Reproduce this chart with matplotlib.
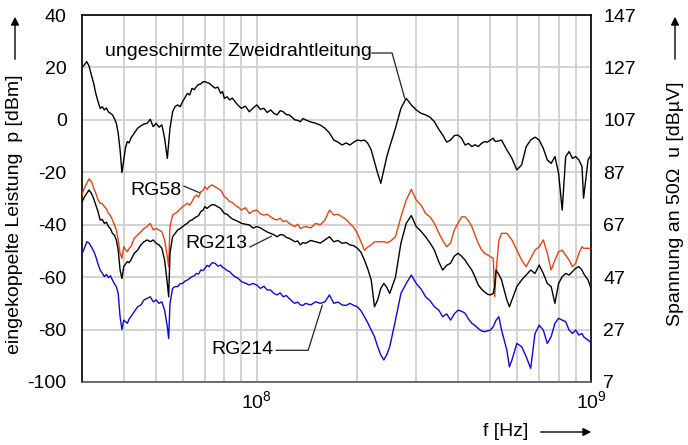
import matplotlib
matplotlib.use("Agg")
import matplotlib.pyplot as plt
from matplotlib.patches import FancyArrowPatch
from matplotlib.ticker import FixedLocator, LogLocator, NullFormatter

plt.rcParams["font.family"] = ["Liberation Sans", "DejaVu Sans"]
plt.rcParams["mathtext.default"] = "regular"
plt.rcParams["axes.unicode_minus"] = False

# Frequency grid in MHz
freq_mhz = [30, 30.5, 31, 31.5, 32, 32.5, 33, 33.5, 34, 34.5,
            35, 35.5, 36, 36.5, 37, 37.5, 38, 38.5, 39, 39.5,
            40, 40.5, 41, 41.5, 42, 43, 44, 45, 46, 47,
            48, 49, 50, 51, 52, 53, 54, 54.5, 55, 56,
            57, 58, 59, 60, 61, 62, 63, 64, 65, 66,
            67, 68, 69, 70, 71, 72, 73.5, 75, 76.5, 78,
            79, 80, 81.5, 83, 84.5, 86, 88, 90, 92.5, 95,
            97.5, 100, 102.5, 105, 107.5, 110, 112.5, 115, 117.5, 120,
            122.5, 125, 127.5, 130, 132.5, 135, 137.5, 140, 145, 150,
            155, 160, 165, 170, 175, 180, 185, 190, 195, 200,
            205, 210, 215, 220, 225, 230, 235, 240, 245, 250,
            260, 270, 280, 290, 300, 310, 320, 330, 340, 350,
            360, 370, 380, 390, 400, 410, 420, 430, 440, 450,
            460, 470, 480, 490, 500, 510, 515, 520, 530, 540,
            560, 570, 580, 600, 620, 640, 660, 680, 700, 720,
            740, 760, 780, 800, 820, 840, 860, 880, 900, 920,
            940, 950, 980, 1000]

# Coupled power in dBm
p_zweidraht = [20.0, 21.0, 22.2, 20.5, 17.1, 14.0, 10.0, 7.0, 4.4, 5.0,
               3.8, 4.5, 3.0, 2.5, 1.9, 0.5, -1.3, -5.1, -11.5, -20.1,
               -15.3, -10.5, -8.3, -8.8, -7.0, -5.1, -3.2, -2.3, -1.6, -1.3,
               0.2, -2.6, -1.3, -2.8, -1.9, -7.0, -14.7, -9.0, -3.2, 3.1,
               5.1, 5.7, 5.0, 7.0, 8.5, 10.1, 9.5, 12.0, 11.5, 12.7,
               13.5, 13.7, 14.5, 14.6, 14.2, 14.0, 13.0, 12.1, 12.5, 10.1,
               10.8, 8.2, 8.8, 7.6, 8.3, 7.0, 5.5, 4.4, 5.2, 3.1,
               4.5, 5.7, 4.0, 4.4, 2.8, 3.8, 2.5, 1.9, 3.5, 3.1,
               2.0, 1.9, 1.0, 0.0, -0.2, -0.7, 0.5, 0.0, -0.8, -1.3,
               -2.0, -3.2, -5.0, -7.7, -8.5, -9.6, -8.8, -9.6, -8.5, -7.7,
               -8.0, -7.7, -9.0, -11.5, -16.0, -20.4, -24.2, -19.1, -14.0, -10.2,
               -3.2, 4.4, 8.2, 5.7, 3.8, 2.5, 1.9, 1.0, -0.7, -3.5,
               -5.8, -8.5, -7.7, -6.0, -5.8, -7.0, -9.6, -9.0, -10.2, -9.5,
               -10.2, -9.0, -8.3, -8.5, -7.7, -7.0, -8.0, -8.3, -8.0, -7.7,
               -11.5, -13.0, -14.7, -19.1, -17.2, -10.2, -7.7, -6.6, -7.7, -10.9,
               -15.3, -16.6, -14.0, -20.4, -34.4, -14.0, -12.1, -14.7, -14.0, -15.3,
               -17.8, -29.9, -15.3, -13.4]

p_rg58 = [-28.5, -26.0, -24.2, -22.5, -23.5, -26.0, -28.0, -30.5, -31.8, -32.0,
          -33.1, -34.0, -35.7, -36.5, -38.2, -40.0, -42.0, -45.8, -50.9, -52.8,
          -48.4, -49.5, -50.3, -49.0, -48.4, -45.2, -43.9, -42.7, -41.4, -40.7,
          -39.5, -42.0, -41.4, -42.0, -42.7, -45.8, -52.2, -56.0, -40.7, -36.3,
          -35.7, -35.0, -34.0, -33.1, -32.5, -31.8, -32.5, -31.2, -29.5, -28.7,
          -29.5, -27.4, -27.0, -25.5, -26.5, -25.5, -24.8, -25.5, -26.2, -26.8,
          -28.0, -29.3, -30.0, -31.2, -31.5, -32.5, -33.3, -34.4, -33.5, -35.7,
          -34.8, -34.4, -35.8, -36.3, -36.0, -37.0, -37.8, -38.2, -37.5, -38.8,
          -38.5, -39.5, -40.2, -40.7, -39.8, -41.4, -41.0, -40.7, -41.2, -39.5,
          -40.0, -38.2, -34.4, -36.3, -36.0, -37.0, -38.0, -39.5, -41.0, -43.3,
          -46.5, -49.7, -48.5, -47.7, -46.5, -46.5, -46.5, -46.5, -46.8, -46.5,
          -44.6, -37.0, -30.6, -26.5, -30.6, -32.5, -35.7, -37.0, -39.5, -43.0,
          -46.0, -48.4, -47.0, -42.0, -39.5, -37.0, -37.0, -38.5, -40.7, -44.0,
          -47.1, -49.5, -50.9, -51.5, -52.2, -52.8, -67.5, -58.0, -46.0, -43.3,
          -43.3, -44.5, -45.8, -49.7, -53.5, -56.0, -52.8, -49.7, -48.4, -45.8,
          -50.9, -57.3, -53.5, -50.3, -49.7, -51.6, -53.5, -56.0, -54.7, -50.9,
          -48.4, -49.0, -49.0, -49.0]

p_rg213 = [-31.3, -29.5, -28.0, -26.8, -28.0, -30.0, -32.5, -35.0, -38.2, -38.0,
           -39.5, -39.0, -40.7, -41.5, -43.3, -44.0, -45.8, -49.7, -57.3, -60.5,
           -56.0, -55.0, -54.1, -54.5, -53.5, -50.9, -49.7, -47.7, -46.5, -45.8,
           -46.5, -45.8, -47.1, -47.7, -49.0, -53.5, -62.4, -67.5, -50.9, -44.6,
           -43.3, -42.0, -41.5, -40.7, -40.0, -39.5, -38.5, -38.2, -37.5, -37.0,
           -36.5, -35.0, -34.5, -33.1, -33.8, -33.1, -32.3, -32.5, -33.2, -33.8,
           -34.8, -35.7, -36.0, -37.0, -37.8, -38.2, -38.8, -39.5, -39.8, -40.1,
           -41.3, -40.7, -41.2, -42.0, -42.8, -43.3, -43.8, -44.6, -43.8, -43.9,
           -44.8, -45.2, -45.8, -46.5, -46.2, -47.7, -46.8, -47.1, -46.0, -46.5,
           -47.0, -45.8, -44.6, -46.5, -46.0, -47.1, -46.8, -47.7, -48.0, -49.0,
           -50.5, -53.5, -57.0, -61.1, -71.3, -68.7, -64.3, -62.4, -64.0, -66.2,
           -60.0, -47.0, -39.5, -36.5, -40.7, -42.5, -44.6, -47.0, -49.7, -54.0,
           -57.3, -55.5, -54.7, -52.0, -50.9, -52.0, -53.5, -55.5, -57.3, -60.0,
           -63.0, -64.5, -65.6, -66.5, -66.8, -66.2, -63.6, -57.3, -59.0, -61.1,
           -68.7, -71.3, -68.7, -63.6, -61.1, -59.2, -57.3, -58.6, -55.4, -58.6,
           -62.4, -63.6, -70.0, -62.4, -59.8, -58.6, -59.2, -57.9, -56.6, -56.0,
           -57.3, -58.6, -61.1, -64.3]

p_rg214 = [-51.0, -49.0, -46.5, -47.0, -48.5, -50.0, -52.2, -55.0, -57.3, -58.5,
           -59.8, -59.0, -60.2, -59.5, -61.1, -62.5, -63.6, -66.2, -75.1, -80.0,
           -76.4, -77.0, -77.6, -76.0, -75.1, -73.2, -71.3, -70.6, -68.7, -68.1,
           -67.5, -69.4, -68.7, -70.0, -69.4, -72.6, -78.9, -83.4, -70.0, -64.3,
           -63.6, -63.6, -62.5, -62.4, -61.5, -61.1, -60.5, -59.8, -59.5, -58.6,
           -58.8, -57.3, -57.5, -56.6, -55.5, -56.0, -54.5, -54.7, -55.8, -55.4,
           -56.3, -56.6, -57.5, -57.9, -59.0, -59.8, -60.5, -61.7, -62.3, -63.0,
           -62.4, -63.0, -64.3, -63.5, -64.9, -64.9, -66.2, -66.8, -66.0, -67.5,
           -67.0, -68.1, -69.2, -70.0, -69.5, -70.6, -70.8, -70.0, -70.6, -69.4,
           -70.0, -69.4, -66.8, -70.0, -69.5, -70.6, -70.8, -70.0, -70.8, -71.3,
           -72.8, -75.1, -77.5, -80.2, -82.7, -86.5, -89.7, -91.6, -89.5, -86.5,
           -76.4, -66.2, -62.4, -59.2, -62.4, -64.5, -67.5, -69.0, -71.3, -72.5,
           -75.1, -74.0, -76.4, -74.0, -72.6, -73.0, -73.8, -76.0, -77.6, -78.5,
           -79.6, -80.5, -80.8, -80.5, -80.2, -78.9, -77.6, -76.4, -75.1, -80.2,
           -87.8, -94.2, -91.6, -85.3, -86.5, -90.4, -94.8, -81.5, -78.3, -80.2,
           -85.3, -82.7, -77.6, -75.7, -76.4, -77.0, -80.2, -81.5, -80.2, -82.1,
           -81.5, -82.7, -84.0, -85.0]

left_ticks = [-100, -80, -60, -40, -20, 0, 20, 40]
right_ticks = [7, 27, 47, 67, 87, 107, 127, 147]

freq_hz = [f * 1e6 for f in freq_mhz]

fig = plt.figure(figsize=(6.88, 4.45), dpi=100)
ax = fig.add_axes([82 / 688, 1 - 382 / 445, (591 - 82) / 688, (382 - 15) / 445])

ax.plot(freq_hz, p_zweidraht, color="black", lw=1.0, zorder=3)
ax.plot(freq_hz, p_rg58, color="#e8420e", lw=1.0, zorder=3)
ax.plot(freq_hz, p_rg213, color="black", lw=1.0, zorder=3)
ax.plot(freq_hz, p_rg214, color="#0a0adc", lw=1.0, zorder=3)

ax.set_xscale("log")
ax.set_xlim(3e7, 1e9)
ax.set_ylim(-100, 40)
ax.xaxis.set_major_locator(FixedLocator([1e8, 1e9]))
ax.xaxis.set_minor_locator(LogLocator(base=10, subs=range(2, 10)))
ax.xaxis.set_minor_formatter(NullFormatter())
ax.set_xticklabels([r"$10^{8}$", r"$10^{9}$"])
ax.set_yticks(left_ticks)
ax.tick_params(axis="both", which="both", length=0, labelsize=14)
ax.tick_params(axis="y", pad=11)
ax.tick_params(axis="x", pad=6)
ax.grid(True, which="both", axis="x", color="#cfcfcf", lw=1.3, zorder=0)
ax.grid(True, which="major", axis="y", color="#cfcfcf", lw=1.3, zorder=0)
for side in ["left", "top", "right"]:
    ax.spines[side].set_color("black")
    ax.spines[side].set_linewidth(1.2)
ax.spines["bottom"].set_color("#555555")
ax.spines["bottom"].set_linewidth(1.2)

ax2 = ax.twinx()
ax2.set_ylim(7, 147)
ax2.set_yticks(right_ticks)
ax2.tick_params(axis="y", length=0, labelsize=14, pad=9)
for side in ax2.spines:
    ax2.spines[side].set_visible(False)

# Curve labels with leader lines
lead = dict(color="#222222", lw=0.9)
ax.text(35.2e6, 25.9, "ungeschirmte Zweidrahtleitung", fontsize=14, ha="left", va="center")
ax.plot([221e6, 254e6, 277e6], [25.5, 25.5, 8.3], **lead)

ax.text(59.5e6, -26.8, "RG58", fontsize=14, ha="right", va="center")
ax.plot([60.6e6, 67.7e6], [-25.3, -27.9], **lead)

ax.text(94e6, -47.0, "RG213", fontsize=14, ha="right", va="center")
ax.plot([95.5e6, 110.5e6], [-48.5, -44.4], **lead)

ax.text(112e6, -87.5, "RG214", fontsize=14, ha="right", va="center")
ax.plot([114.3e6, 142.5e6, 157e6], [-87.9, -87.9, -70.7], **lead)

# Axis titles with direction arrows
fig.text(15 / 688, 1 - 214 / 445, "eingekoppelte Leistung  p [dBm]", rotation=90,
         ha="center", va="center", fontsize=14)
fig.text(675 / 688, 1 - 204 / 445, "Spannung an 50\u03a9  u [dB\u00b5V]", rotation=90,
         ha="center", va="center", fontsize=14)
fig.text(506 / 688, 1 - 432 / 445, "f [Hz]", ha="center", va="center", fontsize=14)

arrow = dict(arrowstyle="-|>", color="black", lw=1.0, mutation_scale=12)
fig.add_artist(FancyArrowPatch((15, 445 - 62), (15, 445 - 14), transform=None, **arrow))
fig.add_artist(FancyArrowPatch((675, 445 - 62), (675, 445 - 14), transform=None, **arrow))
fig.add_artist(FancyArrowPatch((538, 445 - 432), (594, 445 - 432), transform=None, **arrow))

fig.savefig("out.png", dpi=100)
